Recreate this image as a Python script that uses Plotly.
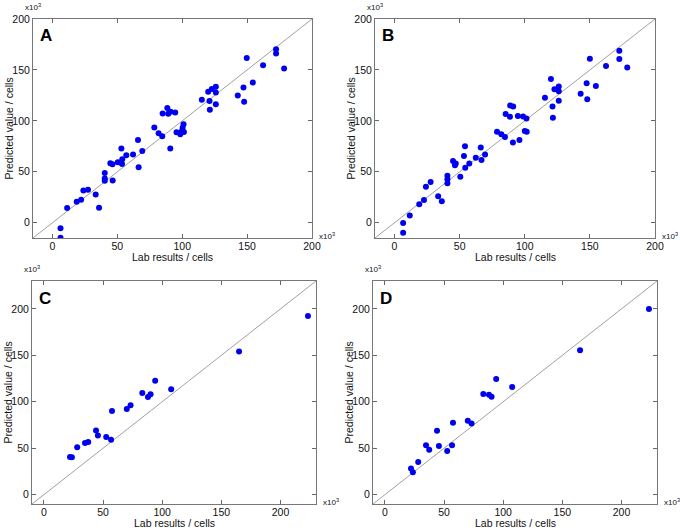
import plotly.graph_objects as go

# ---------------- data (values in thousands of cells) ----------------
lab_a = [6.2, 6.2, 11.3, 18.7, 22.1, 23.8, 27.4, 33.3, 35.9, 40.3, 40.3, 40.3, 44.6, 46.2, 46.4,
         50.3, 53.1, 53.8, 53.6, 56.9, 62.1, 65.9, 66.4, 69.2, 78.5, 81.8, 84.6, 84.9, 88.5, 89.2,
         91.0, 90.8, 94.6, 95.6, 98.5, 99.7, 100.3, 101.0, 101.3, 115.1, 120.0, 121.0, 121.3, 122.8,
         125.9, 125.9, 125.9, 142.8, 147.2, 147.7, 149.7, 154.4, 162.3, 172.3, 172.3, 178.5]
pred_a = [-5.5, -14.7, 14.4, 20.6, 22.5, 31.6, 32.3, 27.7, 14.7, 48.9, 43.4, 41.1, 58.4, 57.4, 41.4,
          59.4, 72.8, 62.3, 57.7, 66.2, 66.9, 81.2, 54.5, 70.5, 93.6, 87.8, 84.8, 107.3, 112.6, 107.0,
          109.0, 72.8, 108.3, 88.7, 86.8, 89.7, 93.3, 96.6, 89.1, 120.7, 128.5, 119.4, 110.9, 131.2,
          133.4, 127.9, 116.2, 125.0, 132.8, 118.8, 161.8, 137.7, 154.6, 170.3, 166.1, 151.4]

lab_b = [6.6, 6.6, 11.7, 19.0, 22.6, 24.1, 27.7, 33.5, 36.3, 40.6, 40.6, 40.6, 44.9, 46.4, 47.0,
         50.5, 54.1, 53.3, 54.3, 57.4, 62.4, 66.2, 66.8, 69.5, 78.7, 82.0, 84.8, 85.3, 88.8, 88.6,
         91.1, 90.9, 94.7, 95.9, 98.7, 100.0, 101.5, 101.3, 115.5, 120.1, 121.3, 121.6, 122.8, 126.1,
         126.1, 126.1, 142.9, 147.5, 148.0, 150.0, 154.6, 162.4, 172.6, 172.6, 178.7]
pred_b = [-0.3, -9.8, 7.2, 18.2, 22.4, 35.4, 40.0, 26.0, 21.1, 46.2, 42.6, 38.7, 60.5, 56.3, 58.2,
          45.2, 75.1, 65.4, 54.0, 58.2, 63.7, 73.8, 61.5, 67.0, 89.4, 86.8, 84.2, 106.7, 115.1, 104.1,
          114.1, 78.7, 104.7, 81.3, 104.4, 90.1, 89.4, 102.4, 122.6, 141.1, 114.1, 103.1, 131.1, 133.7,
          129.1, 119.7, 126.5, 136.9, 121.3, 161.0, 134.3, 153.8, 168.8, 160.7, 152.5]

lab_cd = [22.1, 23.7, 28.2, 34.8, 37.5, 44.1, 45.7, 52.7, 56.8, 57.6, 70.1, 73.3, 83.2, 88.0,
          90.2, 94.1, 107.6, 165.0, 223.2]
pred_c = [40.6, 40.3, 51.0, 55.6, 56.7, 69.2, 63.8, 62.0, 59.2, 90.2, 92.3, 96.3, 109.4, 105.2,
          108.0, 122.6, 113.4, 154.0, 192.2]
pred_d = [28.2, 24.2, 35.3, 53.1, 48.5, 68.8, 52.4, 47.1, 53.1, 77.4, 79.5, 76.6, 108.4, 107.7,
          105.5, 124.4, 115.9, 155.4, 200.0]

tick_vals = [0, 50, 100, 150, 200]
tick_text = ["0", "50", "100", "150", "200"]
range_ab = [-15, 200]
range_cd = [-10, 230]
panel_labels = ["A", "B", "C", "D"]

# ---------------- layout geometry ----------------
W, H = 680, 528
boxes = {  # px: left, right, top, bottom
    "A": (33, 312, 19, 238),
    "B": (375, 655, 19, 238),
    "C": (32, 316, 281, 504),
    "D": (373, 657, 281, 504),
}
panels = [
    ("A", lab_a, pred_a, range_ab),
    ("B", lab_b, pred_b, range_ab),
    ("C", lab_cd, pred_c, range_cd),
    ("D", lab_cd, pred_d, range_cd),
]


def px(x):
    return x / W


def py(y):
    return 1 - y / H


FONT = "Liberation Sans, Arial, sans-serif"
fig = go.Figure()
annotations = []
layout = {}

for i, (name, xs, ys, rng) in enumerate(panels):
    idx = "" if i == 0 else str(i + 1)
    xa, ya = "x" + idx, "y" + idx
    l, r, t, b = boxes[name]
    common = dict(
        range=rng, tickvals=tick_vals, ticktext=tick_text, ticks="inside", ticklen=4,
        tickcolor="#666", showline=True, linecolor="#777", linewidth=1, mirror="ticks",
        showgrid=False, zeroline=False, tickfont=dict(family=FONT, size=10.5, color="#111"),
        fixedrange=True,
    )
    layout["xaxis" + idx] = dict(domain=[px(l), px(r)], anchor=ya, ticklabelstandoff=-2, **common)
    layout["yaxis" + idx] = dict(domain=[py(b), py(t)], anchor=xa, **common)

    # identity line
    fig.add_trace(go.Scatter(x=rng, y=rng, mode="lines", xaxis=xa, yaxis=ya,
                             line=dict(color="#a0a0a0", width=1), hoverinfo="skip", showlegend=False))
    fig.add_trace(go.Scatter(x=xs, y=ys, mode="markers", xaxis=xa, yaxis=ya,
                             marker=dict(color="#0000f0", size=6), showlegend=False))

    cx = (l + r) / 2
    cy = (t + b) / 2
    annotations += [
        dict(text="Lab results / cells", x=px(cx), y=py(b + 18.5), xref="paper", yref="paper",
             showarrow=False, font=dict(family=FONT, size=10.5, color="#111"), xanchor="center", yanchor="middle"),
        dict(text="Predicted value / cells", x=px(l - 25), y=py(cy), xref="paper", yref="paper",
             showarrow=False, textangle=-90, font=dict(family=FONT, size=10.5, color="#111"),
             xanchor="center", yanchor="middle"),
        dict(text="x10<sup>3</sup>", x=px(l - 10), y=py(t - 12), xref="paper", yref="paper",
             showarrow=False, font=dict(family=FONT, size=8, color="#111"), xanchor="left", yanchor="middle"),
        dict(text="x10<sup>3</sup>", x=px(r + 5), y=py(b - 2), xref="paper", yref="paper",
             showarrow=False, font=dict(family=FONT, size=8, color="#111"), xanchor="left", yanchor="middle"),
        dict(text="<b>" + name + "</b>", x=px(l + 5), y=py(t + 17), xref="paper", yref="paper",
             showarrow=False, font=dict(family=FONT, size=17, color="#000"), xanchor="left", yanchor="middle"),
    ]

fig.update_layout(
    width=W, height=H, margin=dict(l=0, r=0, t=0, b=0, autoexpand=False),
    paper_bgcolor="white", plot_bgcolor="white", annotations=annotations, **layout,
)
fig.write_html("out.html", config={"displayModeBar": False},
               post_script="document.body.style.margin='0';document.body.style.overflow='hidden';")
